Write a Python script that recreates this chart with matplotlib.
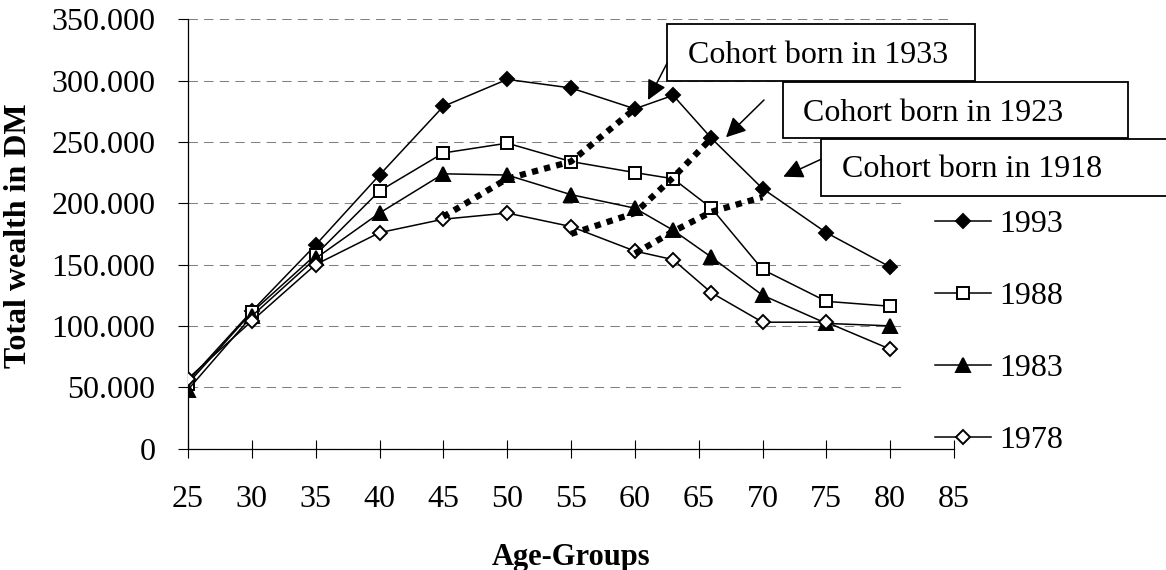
#!/usr/bin/env python3
'''Total wealth by age group for four survey years, with cohort lines'''
import matplotlib
matplotlib.use('Agg')
import matplotlib.pyplot as plt
from matplotlib.patches import Rectangle, FancyArrowPatch
from matplotlib.ticker import FuncFormatter, MultipleLocator

W, H = 1166, 570

AGES = [25, 30, 35, 40, 45, 50, 55, 60, 63, 66, 70, 75, 80]
# total wealth in thousand DM
W1993 = [55, 112, 166, 223, 279, 301, 294, 277, 288, 253, 212, 176, 148]
W1988 = [53, 111, 158, 210, 241, 249, 234, 225, 220, 196, 146, 120, 116]
W1983 = [48, 108, 155, 192, 224, 223, 207, 196, 178, 156, 125, 102, 100]
W1978 = [57, 104, 150, 176, 187, 192, 181, 161, 154, 127, 103, 103, 81]
YEARS = ['1993', '1988', '1983', '1978']

C1933_AGES = [45, 50, 55, 60]
C1933 = [189, 220, 234, 277]
C1923_AGES = [55, 60, 63, 66]
C1923 = [175, 192, 221, 253]
C1918_AGES = [60, 63, 66, 70]
C1918 = [159, 177, 193, 205]
COHORTS = ['Cohort born in 1933', 'Cohort born in 1923', 'Cohort born in 1918']

FS = 23


def px(x, y):
    return x / W, 1 - y / H


def thousands(v, pos):
    return '{:,}'.format(int(v)).replace(',', '.')


def run():
    plt.rcParams['font.family'] = ['Liberation Serif', 'DejaVu Serif']
    fig = plt.figure(figsize=(W / 100, H / 100), dpi=100)
    x0, y0 = px(188, 448.5)
    x1, y1 = px(954, 19.3)
    ax = fig.add_axes([x0, y0, x1 - x0, y1 - y0])

    styles = [('D', 'black', 6.8), ('s', 'white', 9.3), ('^', 'black', 9.5), ('D', 'white', 6.8)]
    for vals, year, (m, fc, ms) in zip([W1993, W1988, W1983, W1978], YEARS, styles):
        ax.plot(AGES, [v * 1000 for v in vals], color='black', lw=1.1,
                marker=m, ms=ms, mfc=fc, mec='black', mew=1.4, label=year, zorder=3)

    for ages, vals in [(C1933_AGES, C1933), (C1923_AGES, C1923), (C1918_AGES, C1918)]:
        ax.plot(ages, [v * 1000 for v in vals], color='black', lw=4.5,
                ls=(0, (1, 1)), zorder=4)

    ax.set_xlim(25, 85)
    ax.set_ylim(0, 350000)
    ax.xaxis.set_major_locator(MultipleLocator(5))
    ax.yaxis.set_major_locator(MultipleLocator(50000))
    ax.yaxis.set_major_formatter(FuncFormatter(thousands))
    ax.tick_params(axis='y', direction='out', length=7, width=0.8, pad=16.5, labelsize=FS)
    ax.tick_params(axis='x', direction='inout', length=13, width=0.8, pad=20, labelsize=FS)
    for s in ['top', 'right']:
        ax.spines[s].set_visible(False)
    for s in ['left', 'bottom']:
        ax.spines[s].set_linewidth(0.9)

    ax.set_axisbelow(True)
    ax.yaxis.grid(True, color='#808080', lw=0.75, ls=(0, (9, 6)))
    ax.xaxis.set_zorder(3)

    ax.set_ylabel('Total wealth in DM', fontsize=FS, fontweight='bold', va='center')
    ax.yaxis.set_label_coords(-0.2213, 0.495)
    ax.set_xlabel('Age-Groups', fontsize=22, fontweight='bold', va='baseline')
    ax.xaxis.set_label_coords(0.5, -0.2714)

    leg = ax.legend(loc='upper left', bbox_to_anchor=px(903, 177.5),
                    bbox_transform=fig.transFigure, frameon=True, fancybox=False,
                    edgecolor='none', facecolor='white', framealpha=1, fontsize=FS,
                    handlelength=1.75, handletextpad=0.25, labelspacing=1.34,
                    borderpad=1.0, borderaxespad=0)
    leg.set_zorder(2)

    # text boxes: left, top, right, bottom, text x, text baseline (pixels)
    boxes = [(667, 24, 975, 81, 688, 63.3),
             (782.7, 81.7, 1128, 138, 803, 120.7),
             (821, 139.3, 1180, 196, 841.7, 176.7)]
    arrows = [((667, 63.3), (648, 100)),
              ((764, 100), (726, 137.3)),
              ((821, 159.3), (783.3, 176.7))]
    for label, (bl, bt, br, bb, tx, ty), (a, b) in zip(COHORTS, boxes, arrows):
        fig.add_artist(Rectangle(px(bl, bb), (br - bl) / W, (bb - bt) / H,
                                 transform=fig.transFigure, fc='white', ec='black',
                                 lw=1.3, zorder=5))
        fig.text(*px(tx, ty), label, fontsize=FS, ha='left', va='baseline', zorder=6)
        fig.add_artist(FancyArrowPatch(px(*a), px(*b), transform=fig.transFigure,
                                       arrowstyle='-|>,head_length=0.4,head_width=0.2',
                                       mutation_scale=30, color='black', lw=1.1,
                                       shrinkA=0, shrinkB=0, zorder=7))

    fig.savefig('out.png', dpi=100)


if __name__ == '__main__':
    run()
